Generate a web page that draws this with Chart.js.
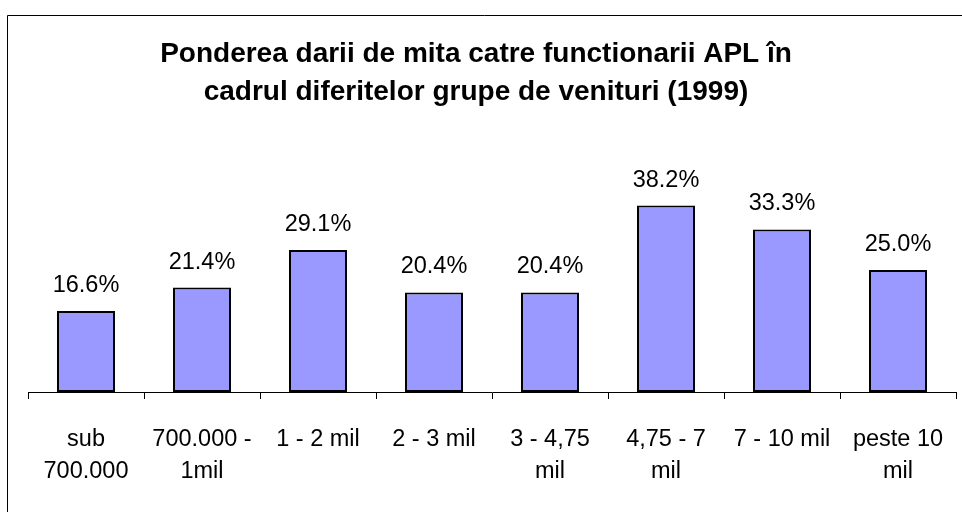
<!DOCTYPE html>
<html lang="ro">
<head>
    <meta charset="UTF-8">
    <title>Ponderea darii de mita</title>
    <script src="https://cdn.jsdelivr.net/npm/chart.js"></script>
    <style>
        html, body { margin: 0; padding: 0; background: #fff; }
        #wrap { width: 962px; height: 512px; position: relative; }
    </style>
</head>
<body>
<div id="wrap"><canvas id="grafic" width="962" height="512"></canvas></div>

<script>
    // date
    const categorii = [
        ['sub', '700.000'],
        ['700.000 -', '1mil'],
        '1 - 2 mil',
        '2 - 3 mil',
        ['3 - 4,75', 'mil'],
        ['4,75 - 7', 'mil'],
        '7 - 10 mil',
        ['peste 10', 'mil']
    ];
    const ponderi = [16.6, 21.4, 29.1, 20.4, 20.4, 38.2, 33.3, 25.0];
    const titlu = [
        'Ponderea darii de mita catre functionarii APL în',
        'cadrul diferitelor grupe de venituri (1999)'
    ];

    const FONT = "'Liberation Sans', Arial, sans-serif";

    // rama, titlu si etichetele de valori
    const decor = {
        id: 'decor',
        afterDraw(chart) {
            const ctx = chart.ctx;
            ctx.save();
            ctx.strokeStyle = '#000';
            ctx.lineWidth = 1;
            ctx.beginPath();
            ctx.moveTo(7.5, 512);
            ctx.lineTo(7.5, 15.5);
            ctx.lineTo(962, 15.5);
            ctx.stroke();

            ctx.fillStyle = '#000';
            ctx.textAlign = 'center';
            ctx.textBaseline = 'alphabetic';
            ctx.font = 'bold 28px ' + FONT;
            ctx.fillText(titlu[0], 476, 62);
            ctx.fillText(titlu[1], 476, 100);

            ctx.font = '23.5px ' + FONT;
            const meta = chart.getDatasetMeta(0);
            meta.data.forEach((bar, i) => {
                ctx.fillText(ponderi[i].toFixed(1) + '%', bar.x, bar.y - 19);
            });
            ctx.restore();
        }
    };

    const ctx = document.getElementById('grafic').getContext('2d');
    new Chart(ctx, {
        type: 'bar',
        data: {
            labels: categorii,
            datasets: [{
                data: ponderi,
                backgroundColor: '#9999FF',
                borderColor: '#000',
                borderWidth: 2,
                borderSkipped: false,
                barPercentage: 0.5,
                categoryPercentage: 1
            }]
        },
        options: {
            responsive: false,
            animation: false,
            layout: { padding: { top: 148, left: 28, right: 6, bottom: 0 } },
            plugins: {
                legend: { display: false },
                tooltip: { enabled: false },
                title: { display: false }
            },
            scales: {
                x: {
                    offset: true,
                    afterFit(scale) {
                        scale.height = 120;
                        scale.paddingLeft = 0;
                        scale.paddingRight = 0;
                    },
                    grid: {
                        offset: true,
                        drawOnChartArea: false,
                        color: '#000',
                        tickLength: 7
                    },
                    border: { display: true, color: '#000', width: 1 },
                    ticks: {
                        color: '#000',
                        maxRotation: 0,
                        autoSkip: false,
                        padding: 24,
                        font: { family: FONT, size: 23.5, lineHeight: 1.37 }
                    }
                },
                y: {
                    display: false,
                    min: 0,
                    max: 50
                }
            }
        },
        plugins: [decor]
    });
</script>
</body>
</html>
